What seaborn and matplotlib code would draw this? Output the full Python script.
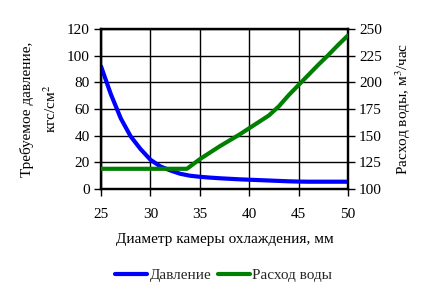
import matplotlib
matplotlib.use("Agg")
import matplotlib.pyplot as plt
import seaborn as sns
import pandas as pd
from matplotlib.lines import Line2D

# Data
diameter = [25, 26, 27, 28, 29, 30, 31, 32, 33, 34, 35, 36, 37, 38, 39, 40,
            41, 42, 43, 44, 45, 46, 47, 48, 49, 50]
pressure = [92, 71, 53, 39.5, 30, 22, 17, 14, 11.5, 10, 9.2, 8.6, 8.1, 7.7, 7.3, 7.0,
            6.7, 6.4, 6.1, 5.8, 5.6, 5.5, 5.5, 5.5, 5.5, 5.5]
flow_diameter = [25, 27, 29, 31, 33, 33.7, 35, 36, 37, 38, 39, 40, 41, 42, 43, 44,
                 45, 46, 47, 48, 49, 50]
flow = [119, 119, 119, 119, 119, 119, 128, 134, 140, 145.5, 151, 157, 163, 169,
        177.5, 188, 197.5, 207, 216.5, 225.5, 235, 244]
x_ticks = [25, 30, 35, 40, 45, 50]
left_ticks = [0, 20, 40, 60, 80, 100, 120]
right_ticks = [100, 125, 150, 175, 200, 225, 250]

sns.set_theme(style="white")
plt.rcParams['font.family'] = ['Liberation Serif', 'DejaVu Serif']
plt.rcParams['mathtext.fontset'] = 'stix'

df_p = pd.DataFrame({"d": diameter, "p": pressure})
df_f = pd.DataFrame({"d": flow_diameter, "f": flow})

fs = 11

fig = plt.figure(figsize=(4.3, 2.94), dpi=100)
fig.patch.set_facecolor("white")
ax = fig.add_axes([0.235, 0.357, 0.574, 0.544])
ax2 = ax.twinx()

blue = "#0000FF"
green = "#008000"

sns.lineplot(data=df_p, x="d", y="p", ax=ax, color=blue, linewidth=3, zorder=3)
sns.lineplot(data=df_f, x="d", y="f", ax=ax2, color=green, linewidth=3, zorder=3)

ax.set_xlim(25, 50)
ax.set_ylim(0, 120)
ax2.set_ylim(100, 250)
ax.set_xticks(x_ticks)
ax.set_yticks(left_ticks)
ax2.set_yticks(right_ticks)

ax.grid(True, color="black", linewidth=1)
ax2.grid(False)

for a in (ax, ax2):
    for s in a.spines.values():
        s.set_color("black")
        s.set_linewidth(1.6)
    a.tick_params(direction="out", length=5, width=1, color="black",
                  labelsize=fs, labelcolor="black", pad=3)
ax.tick_params(axis="both", bottom=True, left=True)
ax.tick_params(axis="x", pad=9)
ax2.tick_params(axis="y", right=True)

ax.set_xlabel("Диаметр камеры охлаждения, мм", fontsize=fs, color="black", labelpad=8)
ax.set_ylabel("Требуемое давление,\nкгс/см$^2$", fontsize=fs, color="black", labelpad=6,
              linespacing=1.6)
ax2.set_ylabel("Расход воды, м$^3$/час", fontsize=fs, color="black", labelpad=8)

handles = [Line2D([], [], color=blue, linewidth=3),
           Line2D([], [], color=green, linewidth=3)]
fig.legend(handles, ["Давление", "Расход воды"], loc="center",
           bbox_to_anchor=(0.52, 0.063), ncol=2, frameon=False, fontsize=fs,
           handlelength=2.1, handletextpad=0.15, columnspacing=0.4)

fig.savefig("out.png", dpi=100, facecolor="white")
